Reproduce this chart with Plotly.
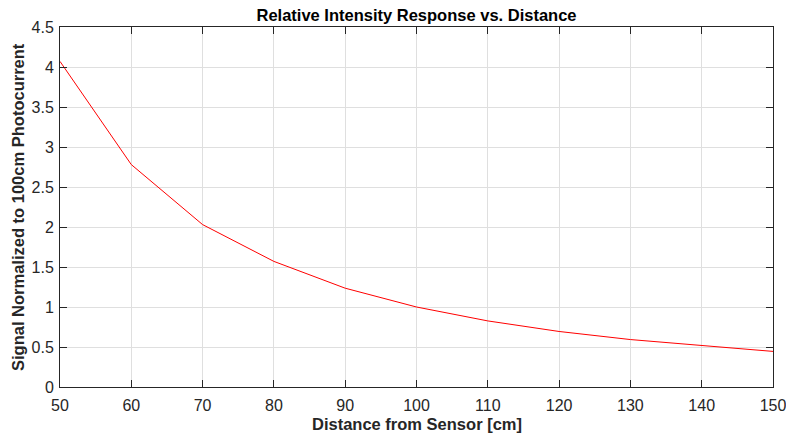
import plotly.graph_objects as go

distance_cm = [50, 60, 70, 80, 90, 100, 110, 120, 130, 140, 150]
signal_norm = [4.07, 2.78, 2.03, 1.57, 1.235, 1.0, 0.826, 0.694, 0.593, 0.515, 0.445]

font_family = "Liberation Sans, Arial, sans-serif"

fig = go.Figure()
fig.add_trace(go.Scatter(
    x=distance_cm,
    y=signal_norm,
    mode="lines",
    line=dict(color="#ff0000", width=1),
    showlegend=False,
))

axis_style = dict(
    showline=True,
    linecolor="#262626",
    linewidth=1,
    mirror="ticks",
    ticks="inside",
    ticklen=7,
    tickwidth=1,
    tickcolor="#262626",
    showgrid=True,
    gridcolor="#dfdfdf",
    gridwidth=1,
    zeroline=False,
    automargin=False,
    ticklabeloverflow="allow",
    tickfont=dict(family=font_family, size=16, color="#262626"),
)

fig.update_layout(
    width=786,
    height=435,
    paper_bgcolor="white",
    plot_bgcolor="white",
    margin=dict(l=60, r=13, t=27, b=48, autoexpand=False),
    title=dict(
        text="<b>Relative Intensity Response vs. Distance</b>",
        x=(60 + 773) / 2 / 786, xanchor="center",
        y=1 - 15 / 435, yanchor="middle",
        font=dict(family=font_family, size=16.5, color="black"),
        automargin=False,
    ),
    xaxis=dict(
        axis_style,
        range=[50, 150],
        tickvals=list(range(50, 151, 10)),
        ticklabelstandoff=4,
    ),
    yaxis=dict(
        axis_style,
        range=[0, 4.5],
        tickvals=[0, 0.5, 1, 1.5, 2, 2.5, 3, 3.5, 4, 4.5],
        ticktext=["0", "0.5", "1", "1.5", "2", "2.5", "3", "3.5", "4", "4.5"],
        ticklabelstandoff=2,
    ),
    annotations=[
        dict(text="<b>Distance from Sensor [cm]</b>", xref="paper", yref="paper",
             x=0.5, y=-37 / 360, xanchor="center", yanchor="middle", showarrow=False,
             font=dict(family=font_family, size=16.5, color="#262626")),
        dict(text="<b>Signal Normalized to 100cm Photocurrent</b>", xref="paper", yref="paper",
             x=-42 / 713, y=0.5, xanchor="center", yanchor="middle", showarrow=False,
             textangle=-90,
             font=dict(family=font_family, size=16.5, color="#262626")),
    ],
)

# drop the browser's default 8px body margin so the figure sits at the page corner
fig.write_html("out.html", config={"displayModeBar": False},
               post_script="document.body.style.margin='0';")
